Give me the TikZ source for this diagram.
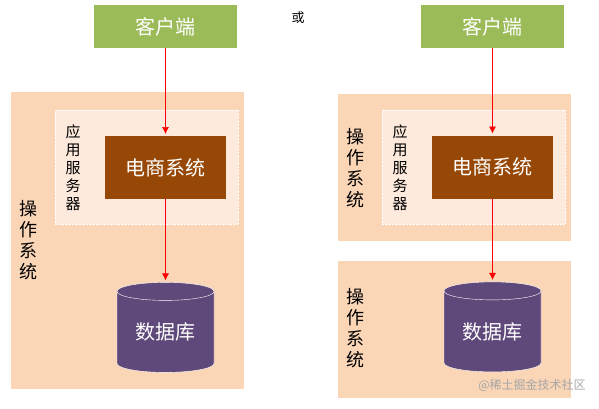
\documentclass[tikz,border=0pt]{standalone}
\usepackage{fontspec}
\setmainfont{Noto Sans CJK SC}
\usetikzlibrary{shapes.geometric,arrows.meta}
\definecolor{vertclient}{HTML}{9BBB59}
\definecolor{peche}{HTML}{FAD5B6}
\definecolor{pechepale}{HTML}{FDEADC}
\definecolor{brun}{HTML}{974806}
\definecolor{violet}{HTML}{5F497A}
\tikzset{
  boite/.style={rectangle, inner sep=0pt, outer sep=0pt},
  client/.style={boite, fill=vertclient, text=white, minimum width=143pt, minimum height=43pt, font=\fontsize{20}{22}\selectfont},
  os/.style={boite, fill=peche, minimum width=233pt},
  appli/.style={boite, fill=pechepale, draw=white, densely dotted, thin, minimum width=183pt, minimum height=114pt},
  ecom/.style={boite, fill=brun, text=white, minimum width=121pt, minimum height=63pt, font=\fontsize{20}{22}\selectfont},
  base/.style={cylinder, shape border rotate=90, aspect=0.3, fill=violet, draw=white, thin, text=white,
    inner sep=0pt, outer sep=0pt, minimum width=97pt, minimum height=90pt, font=\fontsize{20}{22}\selectfont},
  vertical/.style={align=center, inner sep=0pt},
  fleche/.style={red, semithick, shorten >=2pt, -{Latex[length=7pt,width=7pt]}}
}
\begin{document}
\begin{tikzpicture}[x=1pt, y=-1pt]
  \useasboundingbox (0,0) rectangle (599,409);
  % Schéma de gauche : un seul système d'exploitation
  \node[os, minimum height=297pt] (osG) at (127.5,240.5) {};
  \node[appli] (appG) at (146.5,167) {};
  \node[client] (clientG) at (165.5,26.5) {客户端};
  \node[ecom] (ecomG) at (165.5,167.5) {电商系统};
  \node[base] (bdG) at (165.5,332) {数据库};
  \node[vertical, font=\fontsize{18}{21}\selectfont] (txtosG) at (28,240) {操\\作\\系\\统};
  \node[vertical, font=\fontsize{15}{18}\selectfont] (txtappG) at (73,168) {应\\用\\服\\务\\器};

  % Le mot au milieu
  \node[font=\fontsize{13}{15}\selectfont] (ou) at (298,18) {或};

  % Schéma de droite : deux systèmes d'exploitation
  \node[os, minimum height=147pt] (osD1) at (454.5,167.5) {};
  \node[os, minimum height=137pt] (osD2) at (454.5,329.5) {};
  \node[appli] (appD) at (473.5,167) {};
  \node[client] (clientD) at (492.5,26.5) {客户端};
  \node[ecom] (ecomD) at (492.5,167) {电商系统};
  \node[base] (bdD) at (492.5,331.5) {数据库};
  \node[vertical, font=\fontsize{18}{21}\selectfont] (txtosD1) at (355,168) {操\\作\\系\\统};
  \node[vertical, font=\fontsize{18}{21}\selectfont] (txtosD2) at (355,328) {操\\作\\系\\统};
  \node[vertical, font=\fontsize{15}{18}\selectfont] (txtappD) at (400,168) {应\\用\\服\\务\\器};
  \node[text=black!35, font=\fontsize{12}{14}\selectfont] (marque) at (532,385) {@稀土掘金技术社区};

  % Les flèches
  \draw[fleche] (clientG) -- (ecomG);
  \draw[fleche] (ecomG) -- (bdG);
  \draw[fleche] (clientD) -- (ecomD);
  \draw[fleche] (ecomD) -- (bdD);
\end{tikzpicture}
\end{document}
